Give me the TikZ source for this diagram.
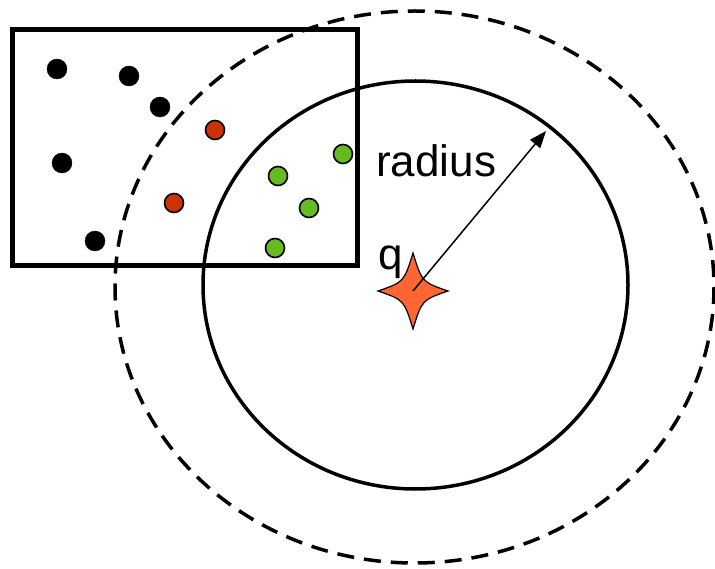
\documentclass[tikz,border=0pt]{standalone}
\usepackage{fontspec}
\setmainfont{Liberation Sans}
\usetikzlibrary{arrows.meta}
\begin{document}
\begin{tikzpicture}[x=1pt,y=-1pt,
  blackdot/.style={circle,fill=black,draw=black,minimum size=20pt,inner sep=0pt},
  reddot/.style={circle,fill={rgb,255:red,204;green,51;blue,0},draw=black,line width=1.6pt,minimum size=19pt,inner sep=0pt},
  greendot/.style={circle,fill={rgb,255:red,102;green,187;blue,34},draw=black,line width=1.6pt,minimum size=19pt,inner sep=0pt},
  lbl/.style={font=\fontsize{44}{46}\selectfont,inner sep=0pt,anchor=base west}]
\useasboundingbox (0,0) rectangle (715,569);
% dashed outer circle
\draw[line width=3.5pt,dash pattern=on 17pt off 10pt] (414.5,287) ellipse [x radius=299.5, y radius=276];
% solid circle
\draw[line width=3.5pt] (415.5,285) ellipse [x radius=212.5, y radius=204];
% rectangle
\draw[line width=5pt] (12,30) rectangle (357,266);
% dots
\node[blackdot] (b1) at (57,69) {};
\node[blackdot] (b2) at (129,76) {};
\node[blackdot] (b3) at (160,107) {};
\node[blackdot] (b4) at (62,163) {};
\node[blackdot] (b5) at (95,241) {};
\node[reddot] (r1) at (215,130) {};
\node[reddot] (r2) at (174,203) {};
\node[greendot] (g1) at (343,154) {};
\node[greendot] (g2) at (278,176) {};
\node[greendot] (g3) at (309,208) {};
\node[greendot] (g4) at (275,248) {};
% star
\coordinate (q) at (413,291);
\coordinate (r) at (546,131);
\draw[fill={rgb,255:red,255;green,102;blue,51},line width=1.2pt,shift={(413,291)}]
  (0,-38) .. controls (9,-9) .. (35,0) .. controls (9,9) .. (0,38)
  .. controls (-9,9) .. (-35,0) .. controls (-9,-9) .. cycle;
\draw[line width=1.5pt,-{Triangle[length=17pt,width=13pt]}] (q) -- (r);
% labels
\node[lbl] (rad) at (376,177) {radius};
\node[lbl] (ql) at (378,270) {q};
\end{tikzpicture}
\end{document}
